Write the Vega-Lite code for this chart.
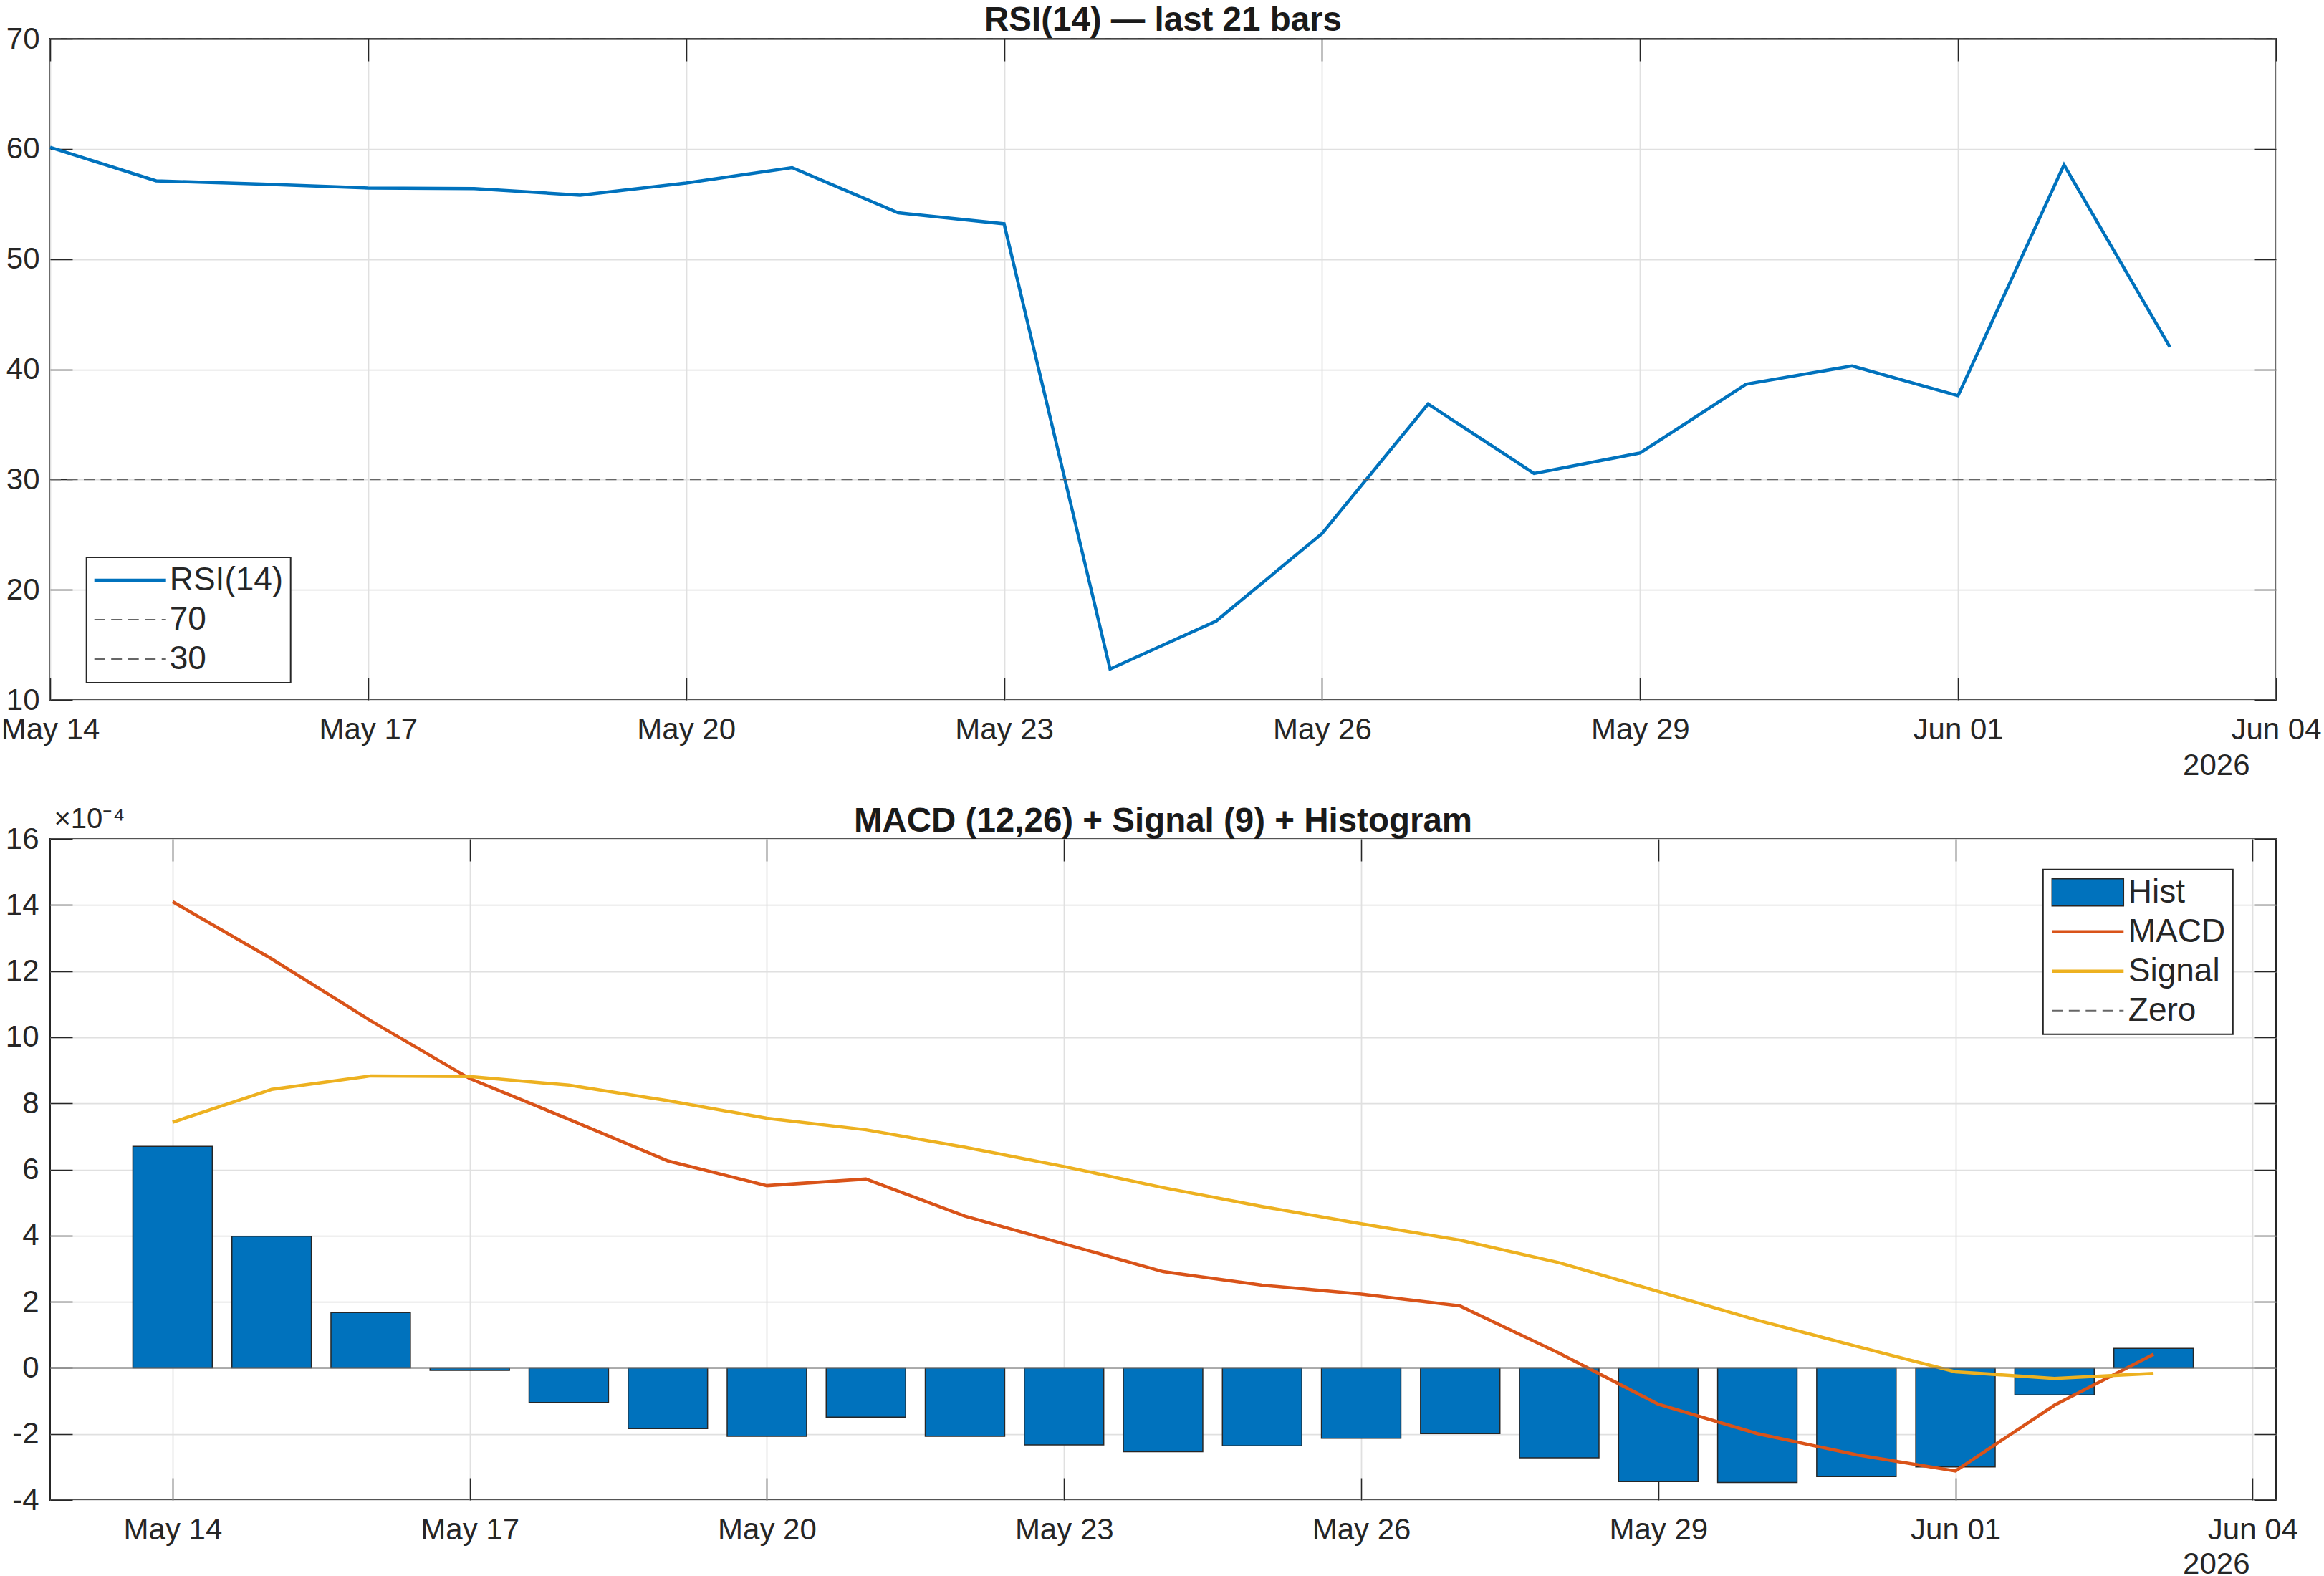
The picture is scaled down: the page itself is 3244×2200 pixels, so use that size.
{
  "$schema": "https://vega.github.io/schema/vega-lite/v6.json",
  "background": "white",
  "padding": {"left": 0, "top": 3, "right": 0, "bottom": 0},
  "autosize": {"type": "pad"},
  "bounds": "flush",
  "spacing": 194,
  "resolve": {"scale": {"color": "independent"}, "legend": {"color": "independent"}},
  "config": {
    "font": "Liberation Sans",
    "view": {"stroke": "#262626", "strokeWidth": 2},
    "axis": {
      "labelFont": "Liberation Sans",
      "labelFontSize": 42,
      "labelColor": "#262626",
      "tickColor": "#262626",
      "tickWidth": 1.5,
      "tickSize": -31,
      "domain": false,
      "gridColor": "#e0e0e0",
      "gridWidth": 1.75,
      "labelOverlap": false,
      "labelFlush": false,
      "labelBound": false,
      "titleFont": "Liberation Sans",
      "titleFontWeight": "normal",
      "titleColor": "#262626",
      "titleFontSize": 42
    },
    "title": {
      "font": "Liberation Sans",
      "fontSize": 47.5,
      "fontWeight": "bold",
      "color": "#1a1a1a",
      "anchor": "middle",
      "baseline": "alphabetic"
    }
  },
  "datasets": {
    "rsi": [
      {"date": "2026-05-14", "rsi": 60.15},
      {"date": "2026-05-15", "rsi": 57.1},
      {"date": "2026-05-16", "rsi": 56.8},
      {"date": "2026-05-17", "rsi": 56.45},
      {"date": "2026-05-18", "rsi": 56.4},
      {"date": "2026-05-19", "rsi": 55.8},
      {"date": "2026-05-20", "rsi": 56.9},
      {"date": "2026-05-21", "rsi": 58.3},
      {"date": "2026-05-22", "rsi": 54.2},
      {"date": "2026-05-23", "rsi": 53.2},
      {"date": "2026-05-24", "rsi": 12.8},
      {"date": "2026-05-25", "rsi": 17.15},
      {"date": "2026-05-26", "rsi": 25.1},
      {"date": "2026-05-27", "rsi": 36.85},
      {"date": "2026-05-28", "rsi": 30.55},
      {"date": "2026-05-29", "rsi": 32.4},
      {"date": "2026-05-30", "rsi": 38.65},
      {"date": "2026-05-31", "rsi": 40.3},
      {"date": "2026-06-01", "rsi": 37.6},
      {"date": "2026-06-02", "rsi": 58.55},
      {"date": "2026-06-03", "rsi": 42.0}
    ],
    "macd": [
      {"date": "2026-05-14", "macd": 0.001410, "signal": 0.000743, "hist": 0.000670},
      {"date": "2026-05-15", "macd": 0.001237, "signal": 0.000842, "hist": 0.000398},
      {"date": "2026-05-16", "macd": 0.001050, "signal": 0.000883, "hist": 0.000167},
      {"date": "2026-05-17", "macd": 0.000875, "signal": 0.000881, "hist": -0.000008},
      {"date": "2026-05-18", "macd": 0.000752, "signal": 0.000855, "hist": -0.000105},
      {"date": "2026-05-19", "macd": 0.000626, "signal": 0.000808, "hist": -0.000184},
      {"date": "2026-05-20", "macd": 0.000551, "signal": 0.000755, "hist": -0.000207},
      {"date": "2026-05-21", "macd": 0.000571, "signal": 0.000720, "hist": -0.000149},
      {"date": "2026-05-22", "macd": 0.000459, "signal": 0.000667, "hist": -0.000207},
      {"date": "2026-05-23", "macd": 0.000375, "signal": 0.000609, "hist": -0.000233},
      {"date": "2026-05-24", "macd": 0.000291, "signal": 0.000545, "hist": -0.000254},
      {"date": "2026-05-25", "macd": 0.000250, "signal": 0.000488, "hist": -0.000236},
      {"date": "2026-05-26", "macd": 0.000223, "signal": 0.000436, "hist": -0.000213},
      {"date": "2026-05-27", "macd": 0.000187, "signal": 0.000386, "hist": -0.000199},
      {"date": "2026-05-28", "macd": 0.000044, "signal": 0.000318, "hist": -0.000272},
      {"date": "2026-05-29", "macd": -0.000110, "signal": 0.000231, "hist": -0.000344},
      {"date": "2026-05-30", "macd": -0.000199, "signal": 0.000144, "hist": -0.000347},
      {"date": "2026-05-31", "macd": -0.000263, "signal": 0.000065, "hist": -0.000329},
      {"date": "2026-06-01", "macd": -0.000312, "signal": -0.000012, "hist": -0.000300},
      {"date": "2026-06-02", "macd": -0.000113, "signal": -0.000032, "hist": -0.000082},
      {"date": "2026-06-03", "macd": 0.000041, "signal": -0.000017, "hist": 0.000059}
    ]
  },
  "vconcat": [
    {
      "width": 3107,
      "height": 923,
      "title": {"text": "RSI(14) — last 21 bars", "offset": -19},
      "layer": [
        {
          "data": {"name": "rsi"},
          "mark": {"type": "line", "strokeWidth": 4.5},
          "encoding": {
            "x": {
              "field": "date",
              "type": "temporal",
              "scale": {"type": "utc", "domain": [{"year": 2026, "month": 5, "date": 14, "utc": true}, {"year": 2026, "month": 6, "date": 4, "utc": true}]},
              "axis": {
                "orient": "bottom",
                "values": [
                  {"year": 2026, "month": 5, "date": 14, "utc": true},
                  {"year": 2026, "month": 5, "date": 17, "utc": true},
                  {"year": 2026, "month": 5, "date": 20, "utc": true},
                  {"year": 2026, "month": 5, "date": 23, "utc": true},
                  {"year": 2026, "month": 5, "date": 26, "utc": true},
                  {"year": 2026, "month": 5, "date": 29, "utc": true},
                  {"year": 2026, "month": 6, "date": 1, "utc": true},
                  {"year": 2026, "month": 6, "date": 4, "utc": true}
                ],
                "format": "%b %d",
                "grid": true,
                "labelPadding": 52,
                "title": "2026",
                "titleAnchor": "end",
                "titleAlign": "right",
                "titleBaseline": "alphabetic",
                "titleX": 3070,
                "titleY": 104
              }
            },
            "y": {
              "field": "rsi",
              "type": "quantitative",
              "scale": {"domain": [10, 70], "nice": false, "zero": false},
              "axis": {"orient": "left", "values": [10, 20, 30, 40, 50, 60, 70], "grid": true, "labelPadding": 46, "title": null}
            },
            "color": {
              "datum": "RSI(14)",
              "type": "nominal",
              "title": null,
              "scale": {"domain": ["RSI(14)", "70", "30"], "range": ["#0072BD", "#666666", "#666666"]},
              "legend": {
                "orient": "none",
                "legendX": 50.7,
                "legendY": 724,
                "direction": "vertical",
                "title": null,
                "symbolType": "stroke",
                "symbolSize": 10000,
                "clipHeight": 44,
                "rowPadding": 9,
                "padding": 10,
                "labelOffset": 4,
                "labelFontSize": 46,
                "labelFont": "Liberation Sans",
                "labelColor": "#262626",
                "labelLimit": 0,
                "strokeColor": "#262626",
                "fillColor": "white",
                "cornerRadius": 0,
                "encode": {
                  "legend": {"update": {"strokeWidth": {"value": 2}}},
                  "symbols": {
                    "update": {
                      "strokeWidth": {"signal": "(datum.value === 'RSI(14)' ? 4.5 : 2)"},
                      "strokeDash": {"signal": "datum.value === 'RSI(14)' ? [] : [15, 8.5]"}
                    }
                  }
                }
              }
            }
          }
        },
        {
          "data": {"values": [{"level": 70}, {"level": 30}]},
          "mark": {"type": "rule", "color": "#666666", "strokeWidth": 2, "strokeDash": [15, 8.5]},
          "encoding": {
            "x": {
              "datum": {"year": 2026, "month": 5, "date": 14, "utc": true},
              "type": "temporal",
              "axis": {
                "orient": "top",
                "values": [
                  {"year": 2026, "month": 5, "date": 14, "utc": true},
                  {"year": 2026, "month": 5, "date": 17, "utc": true},
                  {"year": 2026, "month": 5, "date": 20, "utc": true},
                  {"year": 2026, "month": 5, "date": 23, "utc": true},
                  {"year": 2026, "month": 5, "date": 26, "utc": true},
                  {"year": 2026, "month": 5, "date": 29, "utc": true},
                  {"year": 2026, "month": 6, "date": 1, "utc": true},
                  {"year": 2026, "month": 6, "date": 4, "utc": true}
                ],
                "labels": false,
                "grid": false,
                "domain": true,
                "domainColor": "#262626",
                "domainWidth": 2,
                "zindex": 1,
                "title": null
              }
            },
            "x2": {"datum": {"year": 2026, "month": 6, "date": 4, "utc": true}},
            "y": {
              "field": "level",
              "type": "quantitative",
              "axis": {"orient": "right", "values": [10, 20, 30, 40, 50, 60, 70], "labels": false, "grid": false, "title": null}
            }
          }
        }
      ],
      "resolve": {"axis": {"x": "independent", "y": "independent"}}
    },
    {
      "width": 3107,
      "height": 923,
      "title": {"text": "MACD (12,26) + Signal (9) + Histogram", "offset": -47},
      "data": {"name": "macd"},
      "layer": [
        {
          "mark": {"type": "bar", "width": 110.9, "fill": "#0072BD", "stroke": "#262626", "strokeWidth": 1.5},
          "encoding": {
            "x": {
              "field": "date",
              "type": "temporal",
              "scale": {"type": "utc", "domain": [{"year": 2026, "month": 5, "date": 12, "hours": 19, "minutes": 12, "utc": true}, {"year": 2026, "month": 6, "date": 4, "hours": 4, "minutes": 48, "utc": true}]},
              "axis": {
                "orient": "bottom",
                "values": [
                  {"year": 2026, "month": 5, "date": 14, "utc": true},
                  {"year": 2026, "month": 5, "date": 17, "utc": true},
                  {"year": 2026, "month": 5, "date": 20, "utc": true},
                  {"year": 2026, "month": 5, "date": 23, "utc": true},
                  {"year": 2026, "month": 5, "date": 26, "utc": true},
                  {"year": 2026, "month": 5, "date": 29, "utc": true},
                  {"year": 2026, "month": 6, "date": 1, "utc": true},
                  {"year": 2026, "month": 6, "date": 4, "utc": true}
                ],
                "format": "%b %d",
                "grid": true,
                "labelPadding": 52,
                "title": "2026",
                "titleAnchor": "end",
                "titleAlign": "right",
                "titleBaseline": "alphabetic",
                "titleX": 3070,
                "titleY": 102
              }
            },
            "y": {
              "field": "hist",
              "type": "quantitative",
              "scale": {"domain": [-0.0004, 0.0016], "nice": false, "zero": false},
              "axis": {
                "orient": "left",
                "values": [-0.0004, -0.0002, 0, 0.0002, 0.0004, 0.0006, 0.0008, 0.001, 0.0012, 0.0014, 0.0016],
                "labelExpr": "'' + round(datum.value * 10000)",
                "grid": true,
                "labelPadding": 47,
                "title": "×10⁻⁴",
                "titleAngle": 0,
                "titleFontSize": 40,
                "titleAlign": "left",
                "titleBaseline": "alphabetic",
                "titleX": 5,
                "titleY": -16
              }
            }
          }
        },
        {
          "mark": {"type": "line", "strokeWidth": 4.5},
          "encoding": {
            "x": {
              "field": "date",
              "type": "temporal",
              "axis": {
                "orient": "top",
                "values": [
                  {"year": 2026, "month": 5, "date": 14, "utc": true},
                  {"year": 2026, "month": 5, "date": 17, "utc": true},
                  {"year": 2026, "month": 5, "date": 20, "utc": true},
                  {"year": 2026, "month": 5, "date": 23, "utc": true},
                  {"year": 2026, "month": 5, "date": 26, "utc": true},
                  {"year": 2026, "month": 5, "date": 29, "utc": true},
                  {"year": 2026, "month": 6, "date": 1, "utc": true},
                  {"year": 2026, "month": 6, "date": 4, "utc": true}
                ],
                "labels": false,
                "grid": false,
                "title": null
              }
            },
            "y": {"field": "macd", "type": "quantitative", "axis": null},
            "color": {
              "datum": "MACD",
              "type": "nominal",
              "title": null,
              "scale": {"domain": ["Hist", "MACD", "Signal", "Zero"], "range": ["#262626", "#D95319", "#EDB120", "#666666"]},
              "legend": {
                "orient": "none",
                "legendX": 2781.8,
                "legendY": 42.8,
                "direction": "vertical",
                "title": null,
                "symbolType": "stroke",
                "symbolSize": 10000,
                "clipHeight": 44,
                "rowPadding": 9,
                "padding": 10,
                "labelOffset": 4,
                "labelFontSize": 46,
                "labelFont": "Liberation Sans",
                "labelColor": "#262626",
                "labelLimit": 0,
                "strokeColor": "#262626",
                "fillColor": "white",
                "cornerRadius": 0,
                "encode": {
                  "legend": {"update": {"strokeWidth": {"value": 2}}},
                  "symbols": {
                    "update": {
                      "shape": {"signal": "datum.value === 'Hist' ? 'M-1,-0.38H1V0.38H-1Z' : 'stroke'"},
                      "fill": {"signal": "datum.value === 'Hist' ? '#0072BD' : 'transparent'"},
                      "strokeWidth": {"signal": "(datum.value === 'Hist' ? 1.5 : datum.value === 'Zero' ? 2 : 4.5)"},
                      "strokeDash": {"signal": "datum.value === 'Zero' ? [15, 8.5] : []"}
                    }
                  }
                }
              }
            }
          }
        },
        {
          "mark": {"type": "line", "strokeWidth": 4.5},
          "encoding": {
            "x": {"field": "date", "type": "temporal", "axis": null},
            "y": {
              "field": "signal",
              "type": "quantitative",
              "axis": {
                "orient": "right",
                "values": [-0.0004, -0.0002, 0, 0.0002, 0.0004, 0.0006, 0.0008, 0.001, 0.0012, 0.0014, 0.0016],
                "labels": false,
                "grid": false,
                "title": null
              }
            },
            "color": {"datum": "Signal", "type": "nominal", "title": null}
          }
        },
        {
          "data": {"values": [{"level": 0}]},
          "mark": {"type": "rule", "color": "#666666", "strokeWidth": 2},
          "encoding": {
            "y": {"field": "level", "type": "quantitative", "axis": null}
          }
        }
      ],
      "resolve": {"axis": {"x": "independent", "y": "independent"}}
    }
  ]
}
